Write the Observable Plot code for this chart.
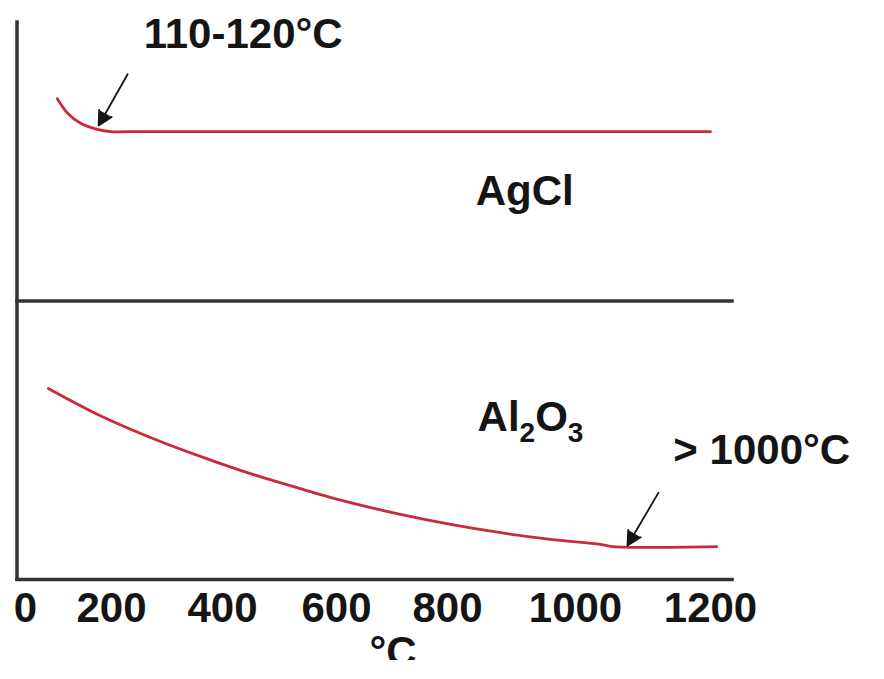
<!DOCTYPE html>
<html>
<head>
<meta charset="utf-8">
<script src="https://cdn.jsdelivr.net/npm/d3@7"></script>
<script src="https://cdn.jsdelivr.net/npm/@observablehq/plot@0.6"></script>
<style>
  html, body { margin: 0; padding: 0; background: #ffffff; }
  #chart { width: 884px; height: 679px; overflow: hidden; }
</style>
</head>
<body>
<div id="chart"></div>
<script>
// ---- data ----
const xTicks = [0, 200, 400, 600, 800, 1000, 1200];
const xAxisLabel = "°C";

const agclTemp = [74, 98, 128, 167, 198, 234, 1200];
const agclMass = [86.3, 83.7, 81.9, 80.8, 80.4, 80.4, 80.4];

const al2o3Temp = [53, 174, 270, 360, 449, 537, 625, 715, 805, 883, 961, 1037, 1055, 1209];
const al2o3Mass = [34.3, 29.4, 25.5, 22.1, 19.0, 16.3, 13.8, 11.7, 9.9, 8.4, 7.2, 6.3, 5.9, 5.9];

const panelDivider = [50];
const baseline = [0];

const labelText = ["110-120°C", "AgCl", "Al2O3", "> 1000°C"];
const labelTemp = [258, 844, 847, 1145];
const labelMass = [97.8, 69.7, 29.1, 23.2];

const arrowFromTemp = [229, 1123];
const arrowFromMass = [90.7, 15.6];
const arrowToTemp = [170, 1077];
const arrowToMass = [81.5, 6.1];

// ---- tables built from the arrays ----
const agcl = agclTemp.map((t, i) => ({t, m: agclMass[i]}));
const al2o3 = al2o3Temp.map((t, i) => ({t, m: al2o3Mass[i]}));
const labels = labelText.map((s, i) => ({s, t: labelTemp[i], m: labelMass[i]}));
const arrows = arrowFromTemp.map((t, i) => ({x1: t, y1: arrowFromMass[i], x2: arrowToTemp[i], y2: arrowToMass[i]}));

const font = "'Liberation Sans', Arial, Helvetica, sans-serif";
const ink = "#151515";
const axisInk = "#333333";
const red = "#c92a3c";

// The reference's hand-set tick labels are unevenly spaced; this warp
// (used as the x scale's transform) reproduces that spacing.
const xWarp = d3.scaleLinear().domain(xTicks).range([0, 150.7, 345.1, 544.8, 739.3, 963.5, 1200]);

function leftAxis(index, scales, values, dims) {
  const x = dims.marginLeft;
  return d3.create("svg:line")
    .attr("x1", x).attr("x2", x)
    .attr("y1", dims.marginTop)
    .attr("y2", dims.height - dims.marginBottom)
    .attr("stroke", axisInk)
    .attr("stroke-width", 3.5)
    .attr("stroke-linecap", "square")
    .node();
}

const plot = Plot.plot({
  width: 884,
  height: 660,
  marginLeft: 17,
  marginRight: 152,
  marginTop: 22,
  marginBottom: 81,
  style: {fontFamily: font, background: "#ffffff", color: ink},
  x: {type: "linear", transform: xWarp, domain: [0, 1200], range: [25, 710], axis: null},
  y: {domain: [0, 100], axis: null},
  marks: [
    Plot.ruleY(baseline, {stroke: axisInk, strokeWidth: 3.5, strokeLinecap: "square"}),
    Plot.ruleY(panelDivider, {stroke: axisInk, strokeWidth: 3.5, strokeLinecap: "square"}),
    leftAxis,
    Plot.line(agcl, {x: "t", y: "m", stroke: red, strokeWidth: 2.8, curve: "catmull-rom"}),
    Plot.line(al2o3, {x: "t", y: "m", stroke: red, strokeWidth: 2.8, curve: "catmull-rom"}),
    Plot.arrow(arrows, {x1: "x1", y1: "y1", x2: "x2", y2: "y2", stroke: ink, fill: ink, strokeWidth: 1.8, headLength: 13, headAngle: 55}),
    Plot.text(labels, {x: "t", y: "m", text: "s", textAnchor: "start", lineAnchor: "middle", fontSize: 42, fontWeight: "bold", fill: ink}),
    Plot.text(xTicks, {x: d => d, frameAnchor: "bottom", lineAnchor: "middle", dy: 29, text: d => String(d), fontSize: 42, fill: ink, fontWeight: "bold"}),
    Plot.text([xAxisLabel], {frameAnchor: "bottom", lineAnchor: "middle", dx: 18, dy: 73, text: d => d, fontSize: 42, fontWeight: "bold", fill: ink})
  ]
});

// subscripts in Al2O3
d3.select(plot).selectAll("text").each(function() {
  if (this.textContent === "Al2O3") {
    const sel = d3.select(this);
    sel.text(null);
    sel.append("tspan").text("Al");
    sel.append("tspan").attr("dy", 11).attr("font-size", 28).text("2");
    sel.append("tspan").attr("dy", -11).text("O");
    sel.append("tspan").attr("dy", 11).attr("font-size", 28).text("3");
  }
});

document.getElementById("chart").appendChild(plot);
</script>
</body>
</html>
